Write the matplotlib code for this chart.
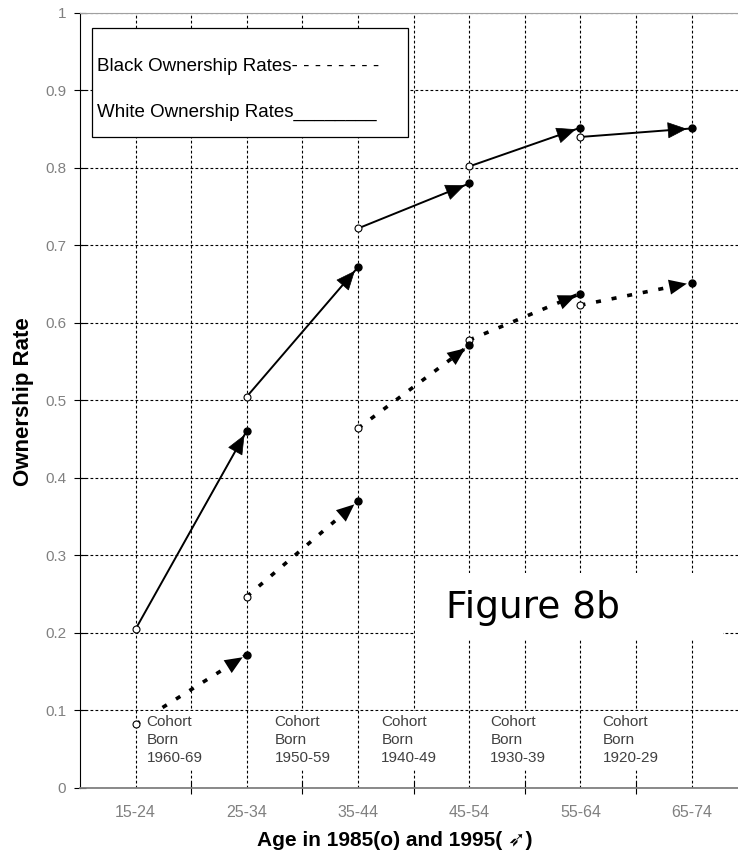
import matplotlib
matplotlib.use("Agg")
import matplotlib.pyplot as plt
from matplotlib.patches import Rectangle
from matplotlib.ticker import FuncFormatter, FixedLocator

# age groups on the x axis
age_groups = ['15-24', '25-34', '35-44', '45-54', '55-64', '65-74']
# birth cohorts, each one moves one age group to the right between 1985 and 1995
cohorts = ['1960-69', '1950-59', '1940-49', '1930-39', '1920-29']

white_1985 = [0.205, 0.505, 0.722, 0.802, 0.840]
white_1995 = [0.461, 0.672, 0.780, 0.852, 0.851]
black_1985 = [0.082, 0.247, 0.464, 0.578, 0.623]
black_1995 = [0.172, 0.370, 0.571, 0.638, 0.652]

# small horizontal shift of each cohort label off its age group
label_shift = [0.1, 0.25, 0.21, 0.19, 0.2]

plt.rcParams['font.family'] = ['Liberation Sans', 'DejaVu Sans']

fig = plt.figure(figsize=(7.38, 8.59), dpi=100)
ax = fig.add_axes([0.1084, 0.0827, 0.8916, 0.9022])

ax.set_xlim(-0.5, 5.417)
ax.set_ylim(0, 1)

# grid at every age group and between them
n = len(age_groups)
ax.xaxis.set_major_locator(FixedLocator([i + 0.5 for i in range(n - 1)]))
ax.xaxis.set_minor_locator(FixedLocator(list(range(n))))
ax.set_xticklabels([], minor=False)
ax.set_xticklabels(age_groups, minor=True)
ax.tick_params(axis='x', which='major', direction='inout', length=9, width=0.8, color='k')
ax.tick_params(axis='x', which='minor', length=0, pad=12, labelsize=11.5, labelcolor='#808080')

ax.set_yticks([i / 10 for i in range(11)])
ax.yaxis.set_major_formatter(FuncFormatter(lambda v, p: '%g' % v))
ax.tick_params(axis='y', direction='inout', length=8, width=0.8, pad=6,
               labelsize=11, labelcolor='#808080')

ax.grid(True, which='both', color='k', linestyle=(0, (2.5, 2)), linewidth=0.8)
ax.set_axisbelow(True)

ax.spines['right'].set_visible(False)
ax.spines['top'].set_color('#a0a0a0')
ax.spines['bottom'].set_color('#808080')
ax.spines['bottom'].set_linewidth(1.3)
ax.spines['left'].set_color('k')

head = '-|>,head_length=0.75,head_width=0.32'

for i in range(len(cohorts)):
    # white: solid
    ax.plot([i, i + 1], [white_1985[i], white_1995[i]], color='k', lw=1.4, zorder=3)
    ax.annotate('', xy=(i + 1, white_1995[i]), xytext=(i, white_1985[i]),
                arrowprops=dict(arrowstyle=head, color='k', lw=0.5, shrinkA=60, shrinkB=3.5,
                                mutation_scale=17),
                zorder=4)
    # black: thick dotted
    ax.plot([i, i + 1], [black_1985[i], black_1995[i]], color='k', lw=2.6,
            linestyle=(0, (1.4, 3.0)), zorder=3)
    ax.annotate('', xy=(i + 1, black_1995[i]), xytext=(i, black_1985[i]),
                arrowprops=dict(arrowstyle=head, color='k', lw=0, shrinkA=0, shrinkB=3.5,
                                mutation_scale=17),
                zorder=4)

xs = list(range(len(cohorts)))
xe = [x + 1 for x in xs]
for yv in (white_1985, black_1985):
    ax.plot(xs, yv, 'o', ls='none', ms=5, mfc='white', mec='k', mew=0.8, zorder=5)
for yv in (white_1995, black_1995):
    ax.plot(xe, yv, 'o', ls='none', ms=5, mfc='k', mec='k', zorder=5)

# cohort labels along the bottom
for i, c in enumerate(cohorts):
    ax.text(i + label_shift[i], 0.094, 'Cohort\nBorn\n' + c, ha='left', va='top',
            fontsize=11, color='#404040', linespacing=1.35, zorder=6,
            bbox=dict(boxstyle='square,pad=0.3', fc='white', ec='none'))

# legend box drawn by hand
ax.add_patch(Rectangle((0.018, 0.84), 0.4805, 0.141, transform=ax.transAxes,
                       fc='white', ec='k', lw=0.9, zorder=6))
ax.text(0.026, 0.931, 'Black Ownership Rates- - - - - - - -', transform=ax.transAxes,
        fontsize=13.5, va='center', ha='left', zorder=7)
ax.text(0.026, 0.872, 'White Ownership Rates________', transform=ax.transAxes,
        fontsize=13.5, va='center', ha='left', zorder=7)

# white patch behind the figure title
ax.add_patch(Rectangle((2.51, 0.191), 2.77, 0.086, fc='white', ec='none', zorder=5.5))
ax.text(3.57, 0.219, 'Figure 8b', fontsize=27, family='DejaVu Sans', ha='center',
        va='baseline', zorder=6)

ax.set_ylabel('Ownership Rate', fontsize=16, fontweight='bold')
ax.yaxis.set_label_coords(-0.07, 0.498)
ax.set_xlabel('Age in 1985(o) and 1995( \u27b6)', fontsize=15, fontweight='bold',
              family=['Liberation Sans', 'DejaVu Sans'])
ax.xaxis.set_label_coords(0.479, -0.055)

fig.savefig('out.png', dpi=100)
